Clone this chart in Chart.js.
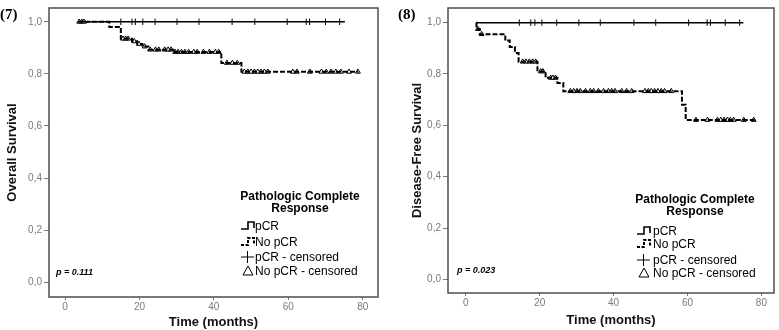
<!DOCTYPE html>
<html>
<head>
<meta charset="utf-8">
<script src="https://cdn.jsdelivr.net/npm/chart.js@4.4.1/dist/chart.umd.min.js"></script>
<style>
  html, body { margin: 0; padding: 0; background: #fff; }
  #wrap { display: flex; width: 779px; height: 330px; }
</style>
</head>
<body>
<div id="wrap">
  <canvas id="c7" width="389" height="330"></canvas>
  <canvas id="c8" width="390" height="330"></canvas>
</div>
<script>
// ---- data ----
const xTicks = [0, 20, 40, 60, 80];
const yTicks = [0, 0.2, 0.4, 0.6, 0.8, 1.0];
const legendTitle = ['Pathologic Complete', 'Response'];
const legendItems = ['pCR', 'No pCR', 'pCR - censored', 'No pCR - censored'];

// (7) overall survival
const osPcrTime = [3.5, 75.2];
const osPcrSurv = [1.0, 1.0];
const osPcrCensored = [15.0, 18.0, 18.9, 20.9, 24.2, 30.1, 36.0, 44.9, 51.0, 59.7, 64.8, 65.7, 70.0, 73.8];
const osNoPcrTime = [3.5, 11.9, 15.0, 18.0, 19.4, 20.8, 22.4, 29.1, 42.0, 47.4, 78.8];
const osNoPcrSurv = [1.0, 0.980, 0.935, 0.925, 0.915, 0.905, 0.893, 0.884, 0.842, 0.808, 0.808];
const osNoPcrCensored = [3.8, 4.5, 5.1, 15.6, 16.3, 17.0, 18.6, 19.9, 21.4,
  22.9, 24.3, 25.2, 26.8, 27.7, 28.5,
  29.6, 30.4, 31.3, 32.2, 33.2, 34.6, 35.5, 37.2, 38.8, 40.4, 41.3,
  43.5, 45.0, 46.3,
  48.2, 49.1, 50.0, 50.9, 51.8, 52.7, 53.6, 54.5, 61.2, 62.3, 65.8, 68.9, 70.2, 71.5, 72.8, 74.1, 76.3, 78.7];
const osPValue = 'p = 0.111';

// (8) disease-free survival
const dfsPcrTime = [2.8, 75.1];
const dfsPcrSurv = [1.0, 1.0];
const dfsPcrCensored = [14.5, 17.6, 18.7, 20.6, 24.6, 30.6, 36.4, 45.5, 51.4, 60.3, 65.3, 66.2, 70.2, 74.1];
const dfsNoPcrTime = [2.8, 2.9, 3.8, 10.7, 11.9, 13.3, 14.3, 19.4, 21.6, 24.8, 26.4, 58.5, 59.5, 78.3];
const dfsNoPcrSurv = [1.0, 0.975, 0.955, 0.930, 0.905, 0.882, 0.848, 0.810, 0.785, 0.765, 0.733, 0.680, 0.621, 0.621];
const dfsNoPcrCensored = [3.3, 4.3, 15.4, 16.3, 17.2, 18.1, 18.9, 20.3, 20.9, 23.0, 23.6, 24.3,
  28.3, 29.2, 30.1, 31.0, 32.4, 33.7, 34.6, 35.9, 37.3, 38.6, 39.5, 40.4, 42.2, 43.5, 44.9,
  48.5, 49.4, 50.2, 51.1, 52.0, 52.9, 53.8, 55.6,
  62.3, 65.4, 68.1, 69.0, 69.9, 70.8, 71.6, 72.5, 75.2, 77.9];
const dfsPValue = 'p = 0.023';

// ---- helpers ----
const FONT = '"Liberation Sans", Arial, sans-serif';

function steps(times, surv) {
  return times.map((t, i) => ({ x: t, y: surv[i] }));
}

// censored marks sit on the curve: value of the step function at that time
function onCurve(censored, times, surv) {
  return censored.map(t => {
    let s = surv[0];
    for (let i = 0; i < times.length; i++) if (times[i] <= t) s = surv[i];
    return { x: t, y: s };
  });
}

function drawStepGlyph(ctx, x, y, dashed) {
  ctx.save();
  ctx.strokeStyle = '#000';
  ctx.lineWidth = dashed ? 2 : 1.6;
  if (dashed) ctx.setLineDash([3, 1.5]);
  ctx.beginPath();
  ctx.moveTo(x, y + 3);
  ctx.lineTo(x + 7, y + 3);
  ctx.lineTo(x + 7, y - 4);
  ctx.lineTo(x + 13, y - 4);
  ctx.lineTo(x + 13, y + 2);
  ctx.stroke();
  ctx.restore();
}

const kmDecor = {
  id: 'kmDecor',
  afterDatasetsDraw(chart, args, o) {
    const { ctx, chartArea: a } = chart;
    ctx.save();
    // plot frame
    ctx.strokeStyle = '#4d4d4d';
    ctx.lineWidth = 1.5;
    ctx.strokeRect(a.left, a.top, a.right - a.left, a.bottom - a.top);

    // panel label
    ctx.fillStyle = '#000';
    ctx.font = 'bold 15px "Liberation Serif", "Times New Roman", serif';
    ctx.textBaseline = 'middle';
    ctx.textAlign = 'left';
    ctx.fillText(o.panel, o.panelX, 15);

    // p value
    ctx.font = 'bold italic 9px ' + FONT;
    ctx.fillText(o.pValue, o.pX, o.pY);

    // legend
    ctx.font = 'bold 12px ' + FONT;
    ctx.textAlign = 'center';
    legendTitle.forEach((t, i) => ctx.fillText(t, o.titleX, o.titleY + i * 12));

    ctx.font = '12px ' + FONT;
    ctx.textAlign = 'left';
    const ys = o.itemY;
    const sx = o.symX;
    drawStepGlyph(ctx, sx, ys[0], false);
    drawStepGlyph(ctx, sx, ys[1], true);
    // plus
    ctx.strokeStyle = '#000';
    ctx.lineWidth = 1;
    ctx.beginPath();
    ctx.moveTo(sx, ys[2]); ctx.lineTo(sx + 13, ys[2]);
    ctx.moveTo(sx + 6.5, ys[2] - 6); ctx.lineTo(sx + 6.5, ys[2] + 6);
    ctx.stroke();
    // triangle
    ctx.beginPath();
    ctx.moveTo(sx + 7, ys[3] - 5);
    ctx.lineTo(sx + 12, ys[3] + 4);
    ctx.lineTo(sx + 2, ys[3] + 4);
    ctx.closePath();
    ctx.stroke();
    legendItems.forEach((t, i) => ctx.fillText(t, o.textX, ys[i] + 1));
    ctx.restore();
  }
};

function makeChart(id, s) {
  const tickColor = '#7a7a7a';
  return new Chart(document.getElementById(id), {
    type: 'line',
    data: {
      datasets: [
        {
          label: 'No pCR',
          data: steps(s.noTime, s.noSurv),
          stepped: 'before',
          borderColor: '#000',
          borderWidth: 2,
          borderDash: [5, 2],
          pointRadius: 0,
          fill: false
        },
        {
          label: 'pCR',
          data: steps(s.pTime, s.pSurv),
          stepped: 'before',
          borderColor: '#000',
          borderWidth: 1.5,
          pointRadius: 0,
          fill: false
        },
        {
          label: 'No pCR - censored',
          data: onCurve(s.noCens, s.noTime, s.noSurv),
          showLine: false,
          pointStyle: 'triangle',
          pointRadius: 2.8,
          pointBorderWidth: 1,
          pointBorderColor: '#000',
          pointBackgroundColor: '#fff'
        },
        {
          label: 'pCR - censored',
          data: onCurve(s.pCens, s.pTime, s.pSurv),
          showLine: false,
          pointStyle: 'line',
          rotation: 90,
          pointRadius: 3.2,
          pointBorderWidth: 1,
          pointBorderColor: '#000'
        }
      ]
    },
    options: {
      responsive: false,
      animation: false,
      layout: { padding: { top: s.padTop, right: s.padRight, left: 0, bottom: 0 } },
      plugins: {
        legend: { display: false },
        tooltip: { enabled: false },
        kmDecor: s.decor
      },
      scales: {
        x: {
          type: 'linear',
          min: s.xMin,
          max: s.xMax,
          afterFit: sc => { sc.height = s.xAxisH; },
          afterBuildTicks: sc => { sc.ticks = xTicks.map(v => ({ value: v })); },
          grid: { drawOnChartArea: false, tickLength: 3, color: tickColor },
          border: { display: false },
          ticks: { color: tickColor, padding: 1, font: { size: 10, family: FONT }, maxRotation: 0 },
          title: {
            display: true, text: 'Time (months)', color: '#111',
            font: { size: 13, weight: 'bold', family: FONT },
            padding: { top: 0, bottom: s.xTitlePad }
          }
        },
        y: {
          type: 'linear',
          min: s.yMin,
          max: s.yMax,
          afterFit: sc => { sc.width = s.yAxisW; },
          afterBuildTicks: sc => { sc.ticks = yTicks.map(v => ({ value: v })); },
          grid: { drawOnChartArea: false, tickLength: 5, color: tickColor },
          border: { display: false },
          ticks: {
            color: tickColor, padding: 2, font: { size: 10, family: FONT },
            callback: v => v.toFixed(1).replace('.', ',')
          },
          title: {
            display: true, text: s.yTitle, color: '#111',
            font: { size: 13, weight: 'bold', family: FONT },
            padding: { top: s.yTitlePad, bottom: 0 }
          }
        }
      }
    },
    plugins: [kmDecor]
  });
}

makeChart('c7', {
  pTime: osPcrTime, pSurv: osPcrSurv, pCens: osPcrCensored,
  noTime: osNoPcrTime, noSurv: osNoPcrSurv, noCens: osNoPcrCensored,
  yTitle: 'Overall Survival',
  xMin: -4.3, xMax: 84.1, yMin: -0.057, yMax: 1.053,
  yAxisW: 49, xAxisH: 33, padTop: 3, padRight: 11,
  yTitlePad: 5, xTitlePad: 0,
  decor: {
    panel: '(7)', panelX: 0, pValue: osPValue, pX: 56, pY: 273,
    titleX: 300, titleY: 197, symX: 241, textX: 255, itemY: [226, 242, 257, 271]
  }
});

makeChart('c8', {
  pTime: dfsPcrTime, pSurv: dfsPcrSurv, pCens: dfsPcrCensored,
  noTime: dfsNoPcrTime, noSurv: dfsNoPcrSurv, noCens: dfsNoPcrCensored,
  yTitle: 'Disease-Free Survival',
  xMin: -4.8, xMax: 83.4, yMin: -0.053, yMax: 1.057,
  yAxisW: 59, xAxisH: 37, padTop: 0, padRight: 2,
  yTitlePad: 21, xTitlePad: 2,
  decor: {
    panel: '(8)', panelX: 9, pValue: dfsPValue, pX: 68, pY: 271,
    titleX: 306, titleY: 200, symX: 248, textX: 264, itemY: [231, 244, 260, 273]
  }
});
</script>
</body>
</html>
